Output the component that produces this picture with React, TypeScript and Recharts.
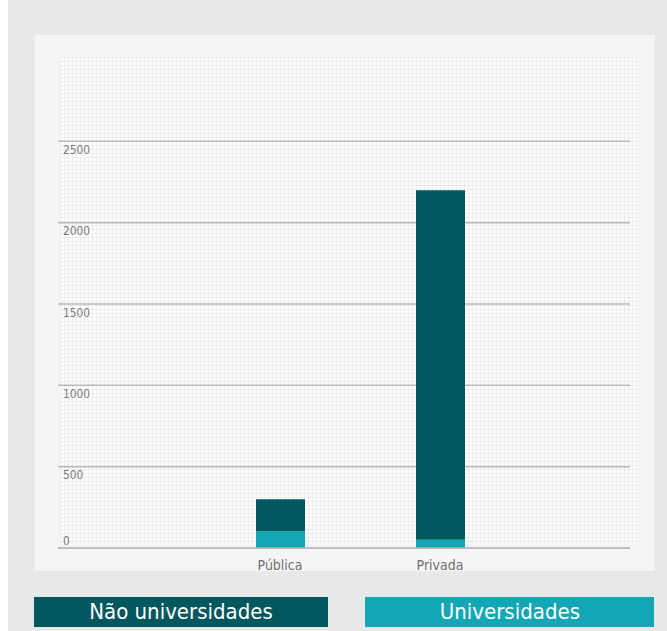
import React from "react";
import { BarChart, Bar, XAxis, YAxis, CartesianGrid } from "recharts";

const categories = ["Pública", "Privada"];
const universidades = [105, 50];
const naoUniversidades = [195, 2150];
const yTicks = [0, 500, 1000, 1500, 2000, 2500];

const data = categories.map((c, i) => ({
  name: c,
  universidades: universidades[i],
  naoUniversidades: naoUniversidades[i],
}));

const DARK = "#03575f";
const LIGHT = "#13a7b5";
const FONT = "'DejaVu Sans', sans-serif";

const YTick = (props: any) => {
  const { y, payload } = props;
  const ty = payload.value === 0 ? y - 3 : y + 12.5;
  return (
    <text
      transform={`translate(55, ${ty}) scale(0.85, 1)`}
      fill="#7a7a7a"
      fontSize={12.5}
      fontFamily={FONT}
      textAnchor="start"
    >
      {payload.value}
    </text>
  );
};

const XTick = (props: any) => {
  const { x, y, payload } = props;
  return (
    <text
      transform={`translate(${x}, ${y + 14}) scale(0.9, 1)`}
      fill="#6f6f6f"
      fontSize={14}
      fontFamily={FONT}
      textAnchor="middle"
    >
      {payload.value}
    </text>
  );
};

const legendBox: React.CSSProperties = {
  position: "absolute",
  top: 597,
  height: 30,
  color: "#fff",
  fontFamily: FONT,
  fontSize: 22,
  lineHeight: "30px",
  textAlign: "center",
};

const labelSpan: React.CSSProperties = {
  display: "inline-block",
  transform: "scaleX(0.9)",
};

export default function App() {
  return (
    <div style={{ position: "absolute", top: 0, left: 8, width: 659, height: 631, background: "#e7e8e8", overflow: "hidden" }}>
      <div style={{ position: "absolute", left: 27, top: 35, width: 620, height: 536, background: "#f5f5f5" }} />
      <div
        style={{
          position: "absolute",
          left: 52,
          top: 57,
          width: 578,
          height: 490,
          backgroundColor: "#fdfdfd",
          backgroundImage:
            "linear-gradient(to right, #ececec 1px, transparent 1px), linear-gradient(to bottom, #ececec 1px, transparent 1px)",
          backgroundSize: "4px 4px",
        }}
      />
      <div style={{ position: "absolute", left: 0, top: 0 }}>
        <BarChart
          width={659}
          height={631}
          data={data}
          margin={{ top: 60, right: 37, bottom: 53, left: 49 }}
          barSize={49}
        >
          <CartesianGrid vertical={false} stroke="#b9b9b9" strokeWidth={1.5} horizontalValues={yTicks} />
          <YAxis
            width={1}
            domain={[0, 3000]}
            ticks={yTicks}
            axisLine={false}
            tickLine={false}
            tick={<YTick />}
          />
          <XAxis
            dataKey="name"
            height={30}
            padding={{ left: 142, right: 110 }}
            axisLine={{ stroke: "#b9b9b9", strokeWidth: 1.5 }}
            tickLine={false}
            tick={<XTick />}
          />
          <Bar dataKey="universidades" stackId="a" fill={LIGHT} isAnimationActive={false} />
          <Bar dataKey="naoUniversidades" stackId="a" fill={DARK} isAnimationActive={false} />
        </BarChart>
      </div>
      <div style={{ ...legendBox, left: 26, width: 294, background: DARK }}>
        <span style={labelSpan}>Não universidades</span>
      </div>
      <div style={{ ...legendBox, left: 357, width: 289, background: LIGHT }}>
        <span style={labelSpan}>Universidades</span>
      </div>
    </div>
  );
}
